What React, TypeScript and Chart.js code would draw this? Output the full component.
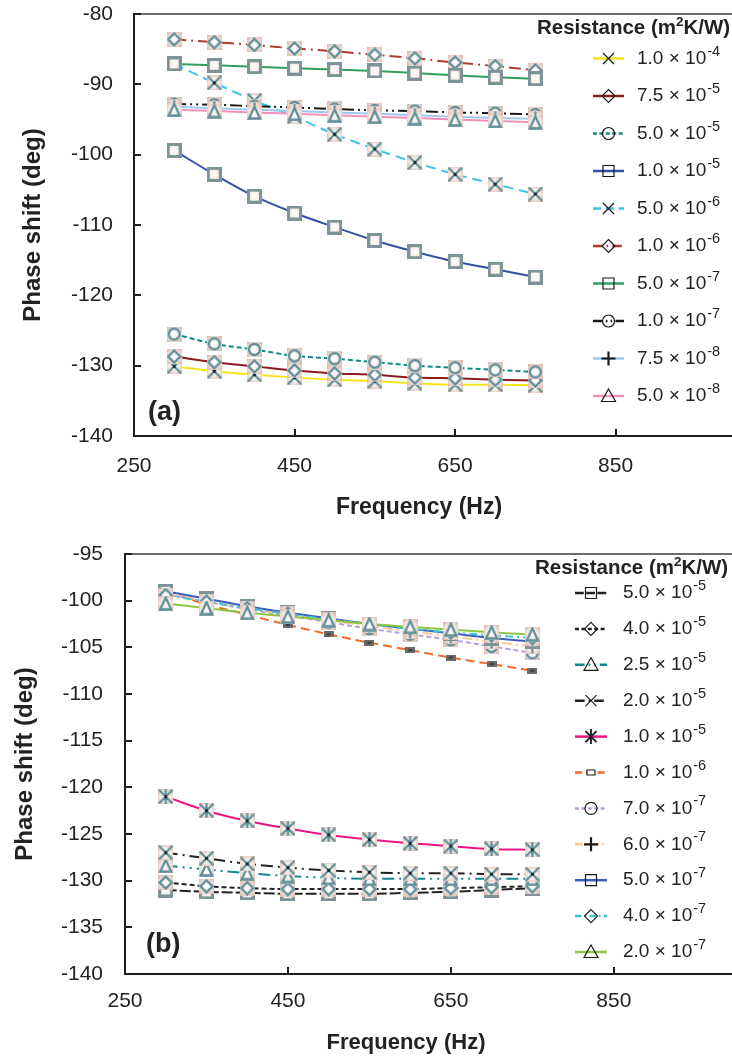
import React, { useEffect, useRef } from 'react';
import { Chart, registerables } from 'chart.js';

Chart.register(...registerables);

const FONT = "'Liberation Sans', Arial, Helvetica, sans-serif";

// ---------- shared data ----------
const frequency = [300, 350, 400, 450, 500, 550, 600, 650, 700, 750];
const xTickValues = [250, 450, 650, 850];
const topYTickValues = [-80, -90, -100, -110, -120, -130, -140];
const bottomYTickValues = [-95, -100, -105, -110, -115, -120, -125, -130, -135, -140];

// ---------- panel (a) ----------
const topMantissas = ['1.0', '7.5', '5.0', '1.0', '5.0', '1.0', '5.0', '1.0', '7.5', '5.0'];
const topExponents = ['-4', '-5', '-5', '-5', '-6', '-6', '-7', '-7', '-8', '-8'];
const top1e4 = [-130.1, -130.8, -131.3, -131.7, -132.0, -132.2, -132.5, -132.7, -132.7, -132.8];
const top75e5 = [-128.7, -129.5, -130.1, -130.7, -131.1, -131.3, -131.7, -131.8, -132.0, -132.1];
const top5e5 = [-125.5, -126.9, -127.7, -128.6, -129.0, -129.5, -130.0, -130.3, -130.6, -130.9];
const top1e5 = [-99.4, -102.8, -105.9, -108.3, -110.3, -112.2, -113.8, -115.2, -116.3, -117.4];
const top5e6 = [-87.1, -89.8, -92.3, -94.6, -97.1, -99.2, -101.1, -102.8, -104.2, -105.6];
const top1e6 = [-83.6, -84.0, -84.4, -84.9, -85.3, -85.8, -86.3, -86.9, -87.4, -88.0];
const top5e7 = [-87.1, -87.3, -87.5, -87.7, -87.9, -88.1, -88.4, -88.7, -89.0, -89.2];
const top1e7 = [-92.8, -92.9, -93.1, -93.3, -93.5, -93.7, -93.8, -94.0, -94.1, -94.3];
const top75e8 = [-93.2, -93.4, -93.6, -93.8, -94.0, -94.2, -94.4, -94.6, -94.8, -94.9];
const top5e8 = [-93.6, -93.8, -94.0, -94.2, -94.4, -94.6, -94.8, -95.0, -95.2, -95.4];
const topColors = ['#f3e41c', '#8e1b1b', '#0f8a84', '#3450a4', '#3ec3ef', '#b23a2c', '#2f9e5e', '#1a1a1a', '#a0c8ef', '#f08fb8'];
const topDashes = [[], [], [5, 3], [], [10, 6], [12, 5, 2, 5], [], [12, 4, 2, 4, 2, 4], [], []];
const topShapes = ['cross', 'diamond', 'circle', 'rect', 'cross', 'diamond', 'rect', 'circle', 'plus', 'triangle'];

// ---------- panel (b) ----------
const bottomMantissas = ['5.0', '4.0', '2.5', '2.0', '1.0', '1.0', '7.0', '6.0', '5.0', '4.0', '2.0'];
const bottomExponents = ['-5', '-5', '-5', '-5', '-5', '-6', '-7', '-7', '-7', '-7', '-7'];
const bot5e5 = [-131.0, -131.2, -131.3, -131.4, -131.4, -131.4, -131.3, -131.2, -131.0, -130.8];
const bot4e5 = [-130.2, -130.6, -130.8, -130.9, -130.9, -130.9, -130.9, -130.8, -130.7, -130.6];
const bot25e5 = [-128.4, -128.8, -129.2, -129.5, -129.7, -129.8, -129.8, -129.8, -129.8, -129.8];
const bot2e5 = [-127.0, -127.6, -128.2, -128.6, -128.9, -129.1, -129.2, -129.2, -129.3, -129.3];
const bot1e5 = [-121.0, -122.5, -123.6, -124.4, -125.1, -125.6, -126.0, -126.3, -126.6, -126.7];
const bot1e6 = [-99.0, -100.4, -101.5, -102.6, -103.6, -104.5, -105.3, -106.1, -106.8, -107.5];
const bot7e7 = [-99.3, -100.1, -100.9, -101.6, -102.3, -103.0, -103.6, -104.2, -104.9, -105.6];
const bot6e7 = [-99.2, -100.0, -100.8, -101.5, -102.1, -102.7, -103.3, -103.8, -104.4, -104.9];
const bot5e7 = [-99.0, -99.8, -100.6, -101.3, -101.9, -102.5, -103.0, -103.5, -104.0, -104.4];
const bot4e7 = [-99.4, -100.1, -100.8, -101.4, -102.0, -102.5, -103.0, -103.4, -103.7, -104.0];
const bot2e7 = [-100.3, -100.8, -101.3, -101.7, -102.1, -102.5, -102.8, -103.1, -103.4, -103.6];
const bottomColors = ['#222222', '#222222', '#138a8a', '#222222', '#ec1582', '#f26a2b', '#b8a0dc', '#fdc796', '#3c5cbf', '#3cc6cc', '#8ec641'];
const bottomDashes = [[11, 3], [5, 3], [12, 5, 2, 5, 2, 5], [12, 5, 2, 5], [], [9, 5], [5, 3], [10, 4, 2, 4], [], [8, 4, 2, 4], []];
const bottomShapes = ['rect', 'diamond', 'triangle', 'cross', 'star', 'bar', 'circle', 'plus', 'rect', 'diamond', 'triangle'];

type PanelDef = {
  values: number[][];
  mantissas: string[];
  exponents: string[];
  colors: string[];
  dashes: number[][];
  shapes: string[];
  yMin: number;
  yMax: number;
  yTicks: number[];
  canvasH: number;
  padTop: number;
  padRight: number;
  yWidth: number;
  xHeight: number;
  yTickPad: number;
  xTickPad: number;
  yTitlePad: number;
  xTitleX: number;
  xTitleY: number;
  xTitleSize: number;
  panelLabel: string;
  labelX: number;
  labelY: number;
  legTitleX: number;
  legTitleY: number;
  legY0: number;
  legStep: number;
  legX1: number;
  legX2: number;
  legTextX: number;
};

const topPanel: PanelDef = {
  values: [top1e4, top75e5, top5e5, top1e5, top5e6, top1e6, top5e7, top1e7, top75e8, top5e8],
  mantissas: topMantissas,
  exponents: topExponents,
  colors: topColors,
  dashes: topDashes,
  shapes: topShapes,
  yMin: -140,
  yMax: -80,
  yTicks: topYTickValues,
  canvasH: 525,
  padTop: 14,
  padRight: 6,
  yWidth: 134,
  xHeight: 89,
  yTickPad: 21,
  xTickPad: 18,
  yTitlePad: 19,
  xTitleX: 419,
  xTitleY: 508,
  xTitleSize: 23,
  panelLabel: '(a)',
  labelX: 148,
  labelY: 413,
  legTitleX: 537,
  legTitleY: 28,
  legY0: 58.5,
  legStep: 37.5,
  legX1: 593,
  legX2: 624,
  legTextX: 637,
};

const BOTTOM_TOP = 528;

const bottomPanel: PanelDef = {
  values: [bot5e5, bot4e5, bot25e5, bot2e5, bot1e5, bot1e6, bot7e7, bot6e7, bot5e7, bot4e7, bot2e7],
  mantissas: bottomMantissas,
  exponents: bottomExponents,
  colors: bottomColors,
  dashes: bottomDashes,
  shapes: bottomShapes,
  yMin: -140,
  yMax: -95,
  yTicks: bottomYTickValues,
  canvasH: 1059 - BOTTOM_TOP,
  padTop: 554 - BOTTOM_TOP,
  padRight: 8,
  yWidth: 125,
  xHeight: 85,
  yTickPad: 22,
  xTickPad: 15,
  yTitlePad: 11,
  xTitleX: 406,
  xTitleY: 1043 - BOTTOM_TOP,
  xTitleSize: 22,
  panelLabel: '(b)',
  labelX: 146,
  labelY: 945 - BOTTOM_TOP,
  legTitleX: 535,
  legTitleY: 568 - BOTTOM_TOP,
  legY0: 593 - BOTTOM_TOP,
  legStep: 35.9,
  legX1: 575,
  legX2: 607,
  legTextX: 623,
};

// ---------- marker tiles (plot) ----------
function makeTile(shape: string): HTMLCanvasElement {
  const c = document.createElement('canvas');
  if (shape === 'bar') {
    c.width = 10;
    c.height = 6;
    const g = c.getContext('2d')!;
    g.fillStyle = '#6a6a6a';
    g.fillRect(0, 0, 10, 6);
    g.fillStyle = '#3c3c3c';
    g.fillRect(3, 2, 4, 2);
    return c;
  }
  const size = 15;
  c.width = size;
  c.height = size;
  const g = c.getContext('2d')!;
  const m = size / 2;
  const grad = g.createRadialGradient(m, m, 0, m, m, m * 1.35);
  grad.addColorStop(0, '#ffffff');
  grad.addColorStop(0.45, '#fbefea');
  grad.addColorStop(1, '#d9b7aa');
  g.fillStyle = grad;
  g.fillRect(0, 0, size, size);
  g.strokeStyle = '#5f909a';
  g.lineWidth = 2.3;
  g.lineCap = 'round';
  g.beginPath();
  if (shape === 'rect') {
    g.strokeStyle = '#7d9398';
    g.lineWidth = 3;
    g.strokeRect(1.5, 1.5, size - 3, size - 3);
    return c;
  } else if (shape === 'diamond') {
    g.moveTo(m, 1.5);
    g.lineTo(size - 1.5, m);
    g.lineTo(m, size - 1.5);
    g.lineTo(1.5, m);
    g.closePath();
  } else if (shape === 'circle') {
    g.arc(m, m, m - 2, 0, Math.PI * 2);
  } else if (shape === 'triangle') {
    g.moveTo(m, 1.5);
    g.lineTo(size - 2, size - 1.5);
    g.lineTo(2, size - 1.5);
    g.closePath();
  } else if (shape === 'plus') {
    g.moveTo(m, 1.5);
    g.lineTo(m, size - 1.5);
    g.moveTo(1.5, m);
    g.lineTo(size - 1.5, m);
  } else {
    g.moveTo(1.5, 1.5);
    g.lineTo(size - 1.5, size - 1.5);
    g.moveTo(size - 1.5, 1.5);
    g.lineTo(1.5, size - 1.5);
    if (shape === 'star') {
      g.moveTo(m, 1);
      g.lineTo(m, size - 1);
    }
  }
  g.stroke();
  if (shape === 'cross' || shape === 'star') {
    g.fillStyle = '#1e2a2c';
    g.fillRect(m - 1.5, m - 1.5, 3, 3);
  }
  return c;
}

// ---------- legend markers (black outline) ----------
function drawLegendMarker(ctx: CanvasRenderingContext2D, x: number, y: number, shape: string) {
  ctx.save();
  ctx.setLineDash([]);
  ctx.strokeStyle = '#1a1a1a';
  ctx.lineWidth = 1.2;
  ctx.beginPath();
  if (shape === 'rect') {
    ctx.rect(x - 5.5, y - 5.5, 11, 11);
  } else if (shape === 'diamond') {
    ctx.moveTo(x, y - 6.5);
    ctx.lineTo(x + 6.5, y);
    ctx.lineTo(x, y + 6.5);
    ctx.lineTo(x - 6.5, y);
    ctx.closePath();
  } else if (shape === 'circle') {
    ctx.arc(x, y, 6, 0, Math.PI * 2);
  } else if (shape === 'triangle') {
    ctx.moveTo(x, y - 7);
    ctx.lineTo(x + 7, y + 5.5);
    ctx.lineTo(x - 7, y + 5.5);
    ctx.closePath();
  } else if (shape === 'plus') {
    ctx.lineWidth = 2.2;
    ctx.moveTo(x, y - 7);
    ctx.lineTo(x, y + 7);
    ctx.moveTo(x - 7, y);
    ctx.lineTo(x + 7, y);
  } else if (shape === 'bar') {
    ctx.fillStyle = '#ffffff';
    ctx.fillRect(x - 4, y - 2.5, 8, 5);
    ctx.rect(x - 4, y - 2.5, 8, 5);
  } else {
    ctx.moveTo(x - 5.5, y - 5.5);
    ctx.lineTo(x + 5.5, y + 5.5);
    ctx.moveTo(x + 5.5, y - 5.5);
    ctx.lineTo(x - 5.5, y + 5.5);
    if (shape === 'star') {
      ctx.lineWidth = 1.8;
      ctx.moveTo(x, y - 7.5);
      ctx.lineTo(x, y + 7.5);
    }
  }
  ctx.stroke();
  ctx.restore();
}

function makeDecor(def: PanelDef) {
  return {
    id: 'decor',
    afterDraw(chart: any) {
      const ctx: CanvasRenderingContext2D = chart.ctx;
      const ca = chart.chartArea;
      const xs = chart.scales.x;
      const ys = chart.scales.y;
      ctx.save();
      // top frame line
      ctx.strokeStyle = '#6b6b6b';
      ctx.lineWidth = 2;
      ctx.beginPath();
      ctx.moveTo(ca.left, ca.top);
      ctx.lineTo(chart.width, ca.top);
      ctx.stroke();
      // inward tick marks
      ctx.strokeStyle = '#1e1e1e';
      ctx.lineWidth = 2;
      ctx.beginPath();
      def.yTicks.forEach((v) => {
        const py = Math.round(ys.getPixelForValue(v));
        ctx.moveTo(ca.left, py);
        ctx.lineTo(ca.left + 7, py);
      });
      xTickValues.forEach((v) => {
        const px = Math.round(xs.getPixelForValue(v));
        ctx.moveTo(px, ca.bottom);
        ctx.lineTo(px, ca.bottom - 7);
      });
      ctx.stroke();
      // x axis title
      ctx.fillStyle = '#222222';
      ctx.textAlign = 'center';
      ctx.textBaseline = 'middle';
      ctx.font = `bold ${def.xTitleSize}px ${FONT}`;
      ctx.fillText('Frequency (Hz)', def.xTitleX, def.xTitleY);
      // panel label
      ctx.textAlign = 'left';
      ctx.font = `bold 27px ${FONT}`;
      ctx.fillText(def.panelLabel, def.labelX, def.labelY);
      // legend title
      ctx.font = `bold 20.5px ${FONT}`;
      let tx = def.legTitleX;
      const p1 = 'Resistance (m';
      ctx.fillText(p1, tx, def.legTitleY);
      tx += ctx.measureText(p1).width;
      ctx.font = `bold 13.5px ${FONT}`;
      ctx.fillText('2', tx, def.legTitleY - 6);
      tx += ctx.measureText('2').width;
      ctx.font = `bold 20.5px ${FONT}`;
      ctx.fillText('K/W)', tx, def.legTitleY);
      // legend entries
      def.mantissas.forEach((mant, i) => {
        const y = def.legY0 + i * def.legStep;
        ctx.save();
        ctx.strokeStyle = def.colors[i];
        ctx.lineWidth = 2.5;
        ctx.setLineDash(def.dashes[i].map((d) => d * 0.8));
        ctx.beginPath();
        ctx.moveTo(def.legX1, y);
        ctx.lineTo(def.legX2, y);
        ctx.stroke();
        ctx.restore();
        drawLegendMarker(ctx, (def.legX1 + def.legX2) / 2, y, def.shapes[i]);
        ctx.fillStyle = '#222222';
        ctx.textAlign = 'left';
        ctx.textBaseline = 'middle';
        ctx.font = `19px ${FONT}`;
        const main = `${mant} × 10`;
        ctx.fillText(main, def.legTextX, y);
        const w = ctx.measureText(main).width;
        ctx.font = `14.5px ${FONT}`;
        ctx.fillText(def.exponents[i], def.legTextX + w + 1, y - 7);
      });
      ctx.restore();
    },
  };
}

function buildConfig(def: PanelDef): any {
  const tiles = def.shapes.map((s) => makeTile(s));
  const n = def.values.length;
  return {
    type: 'line',
    data: {
      datasets: def.values.map((vals, i) => ({
        label: `${def.mantissas[i]} × 10${def.exponents[i]}`,
        data: frequency.map((f, j) => ({ x: f, y: vals[j] })),
        order: n - i,
        borderColor: def.colors[i],
        backgroundColor: def.colors[i],
        borderDash: def.dashes[i],
        borderWidth: 2,
        pointStyle: tiles[i],
        pointRadius: 7,
        pointHoverRadius: 7,
        cubicInterpolationMode: 'monotone',
        fill: false,
      })),
    },
    options: {
      responsive: false,
      animation: false,
      devicePixelRatio: 1,
      events: [],
      layout: { padding: { top: def.padTop, right: def.padRight, left: 0, bottom: 0 } },
      plugins: { legend: { display: false }, tooltip: { enabled: false } },
      scales: {
        x: {
          type: 'linear',
          min: 250,
          max: 1000,
          afterBuildTicks: (s: any) => {
            s.ticks = xTickValues.map((v) => ({ value: v }));
          },
          afterFit: (s: any) => {
            s.height = def.xHeight;
            s.paddingLeft = 0;
            s.paddingRight = 0;
            s.paddingTop = 0;
            s.paddingBottom = 0;
          },
          ticks: {
            font: { family: FONT, size: 21 },
            color: '#222222',
            padding: def.xTickPad,
            maxRotation: 0,
            autoSkip: false,
          },
          grid: { display: true, drawOnChartArea: false, drawTicks: false, color: 'rgba(0,0,0,0)' },
          border: { display: true, color: '#1e1e1e', width: 2 },
        },
        y: {
          type: 'linear',
          min: def.yMin,
          max: def.yMax,
          afterBuildTicks: (s: any) => {
            s.ticks = def.yTicks.map((v) => ({ value: v }));
          },
          afterFit: (s: any) => {
            s.width = def.yWidth;
            s.paddingLeft = 0;
            s.paddingRight = 0;
            s.paddingTop = 0;
            s.paddingBottom = 0;
          },
          ticks: {
            font: { family: FONT, size: 21 },
            color: '#222222',
            padding: def.yTickPad,
            autoSkip: false,
          },
          grid: { display: true, drawOnChartArea: false, drawTicks: false, color: 'rgba(0,0,0,0)' },
          border: { display: true, color: '#1e1e1e', width: 2 },
          title: {
            display: true,
            text: 'Phase shift (deg)',
            color: '#222222',
            font: { family: FONT, size: 24, weight: 'bold' },
            padding: { top: def.yTitlePad, bottom: 0 },
          },
        },
      },
    },
    plugins: [makeDecor(def)],
  };
}

function Panel({ def, top }: { def: PanelDef; top: number }) {
  const ref = useRef<HTMLCanvasElement>(null);
  useEffect(() => {
    const chart = new Chart(ref.current as HTMLCanvasElement, buildConfig(def));
    return () => chart.destroy();
  }, [def]);
  return (
    <canvas
      ref={ref}
      width={745}
      height={def.canvasH}
      style={{ position: 'absolute', left: 0, top, width: 745, height: def.canvasH }}
    />
  );
}

export default function App() {
  return (
    <div
      style={{
        position: 'absolute',
        left: 0,
        top: 0,
        width: 732,
        height: 1059,
        overflow: 'hidden',
        background: '#ffffff',
      }}
    >
      <Panel def={topPanel} top={0} />
      <Panel def={bottomPanel} top={BOTTOM_TOP} />
    </div>
  );
}
